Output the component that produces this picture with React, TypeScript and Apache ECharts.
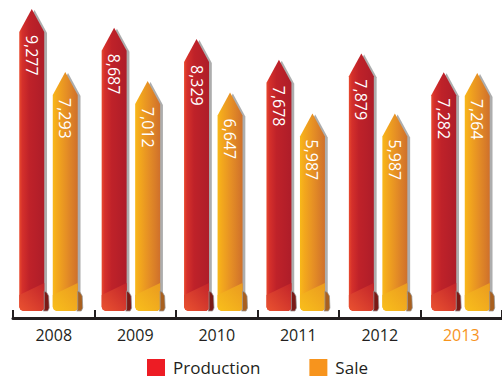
import React, { useEffect, useRef } from "react";
import * as echarts from "echarts";

const years = ["2008", "2009", "2010", "2011", "2012", "2013"];
const production = [9277, 8687, 8329, 7678, 7879, 7282];
const sale = [7293, 7012, 6647, 5987, 5987, 7264];
const seriesNames = ["Production", "Sale"];
const legendColors = ["#ed1c24", "#f7941d"];
const highlightYear = "2013";

const FONT = '"Open Sans", "Noto Sans", sans-serif';

type Palette = {
  body: [number, string][];
  lower: [string, string];
  curl: string;
};

const palettes: Palette[] = [
  {
    body: [
      [0, "#e84a2e"],
      [0.12, "#d5302b"],
      [0.4, "#bf2229"],
      [1, "#ae1d29"],
    ],
    lower: ["#ea5230", "#c2242a"],
    curl: "#7a1a16",
  },
  {
    body: [
      [0, "#f8b819"],
      [0.15, "#f4aa1c"],
      [0.55, "#e58e25"],
      [1, "#cf702b"],
    ],
    lower: ["#f9bf1b", "#ea9a20"],
    curl: "#a9601f",
  },
];

function makeRenderItem(side: number, pal: Palette) {
  return (params: any, api: any) => {
    const idx = api.value(0);
    const val = api.value(1);
    const band = api.size([1, 0])[0];
    const top = api.coord([idx, val]);
    const B = api.coord([idx, 0])[1];
    const w = band * 0.303;
    const cx = top[0] + side * band * 0.2033;
    const tip = top[1];
    const headH = w * 0.92;
    const L = cx - w / 2;
    const R = cx + w / 2;
    const lin = (x: number, y: number, x2: number, y2: number, stops: [number, string][]) => ({
      type: "linear",
      x,
      y,
      x2,
      y2,
      global: false,
      colorStops: stops.map(([offset, color]) => ({ offset, color })),
    });
    const bottom: number[][] = [
      [R, B + 5],
      [R - 3, B + 7],
      [L + 4, B + 7],
      [L + 1.2, B + 5.8],
      [L, B + 3],
    ];
    return {
      type: "group",
      children: [
        {
          type: "polygon",
          shape: {
            points: [
              [L + 2.8, B - 10],
              [L + 2.8, tip + headH + 1],
              [cx + 2.8, tip + 1],
              [R + 2.8, tip + headH + 1],
              [R + 2.8, B - 10],
            ],
          },
          style: { fill: "rgba(105,105,105,0.55)" },
        },
        {
          type: "polygon",
          shape: {
            points: [[L, tip + headH], [cx, tip], [R, tip + headH], ...bottom],
          },
          style: { fill: lin(0, 0, 1, 0, pal.body) },
        },
        {
          type: "polygon",
          shape: {
            points: [[L, B - 9], [R, B - 21], ...bottom],
          },
          style: {
            fill: lin(0, 1, 1, 0, [
              [0, pal.lower[0]],
              [1, pal.lower[1]],
            ]),
          },
        },
        {
          type: "polygon",
          shape: {
            points: [
              [R, B - 13],
              [R + 2.5, B - 11.5],
              [R + 4.5, B - 8],
              [R + 5, B + 4],
              [R + 3.5, B + 7],
              [R - 1, B + 7],
              [R, B + 5],
            ],
          },
          style: { fill: pal.curl, stroke: "rgba(150,150,150,0.9)", lineWidth: 0.8 },
        },
        {
          type: "text",
          x: cx,
          y: tip + headH + 3,
          rotation: -Math.PI / 2,
          style: {
            text: Number(val).toLocaleString("en-US"),
            fill: "#ffffff",
            font: `16px ${FONT}`,
            align: "left",
            verticalAlign: "middle",
          },
        },
      ],
    };
  };
}

export default function App() {
  const ref = useRef<HTMLDivElement>(null);
  useEffect(() => {
    if (!ref.current) return;
    const chart = echarts.init(ref.current, undefined, { renderer: "svg" });
    const valueSets = [production, sale];
    chart.setOption({
      animation: false,
      backgroundColor: "#ffffff",
      textStyle: { fontFamily: FONT },
      legend: {
        data: seriesNames.map((n, i) => ({ name: n, icon: "rect", itemStyle: { color: legendColors[i] } })),
        left: 147,
        top: 359,
        padding: 0,
        itemWidth: 18,
        itemHeight: 17,
        itemGap: 49,
        textStyle: { fontSize: 17, color: "#231f20", fontFamily: FONT, padding: [0, 0, 0, 3] },
      },
      grid: [
        { left: 13, width: 492, top: 5, height: 299 },
        { left: 7.3, width: 494.4, top: 5, height: 299 },
      ],
      xAxis: [
        {
          type: "category",
          gridIndex: 0,
          data: years.map((y) =>
            y === highlightYear ? { value: y, textStyle: { color: legendColors[1] } } : y
          ),
          offset: 14,
          axisLine: { show: true, onZero: false, lineStyle: { color: "#231f20", width: 3 } },
          axisTick: { show: true, inside: true, length: 8, lineStyle: { color: "#231f20", width: 2 } },
          axisLabel: { fontSize: 16, color: "#231f20", margin: 9, fontFamily: FONT },
        },
        {
          type: "category",
          gridIndex: 1,
          data: years,
          show: false,
        },
      ],
      yAxis: [
        { type: "value", gridIndex: 0, min: 0, max: 9400, show: false, splitLine: { show: false } },
        { type: "value", gridIndex: 1, min: 0, max: 9400, show: false, splitLine: { show: false } },
      ],
      series: seriesNames.map((name, s) => ({
        type: "custom",
        name,
        xAxisIndex: 1,
        yAxisIndex: 1,
        itemStyle: { color: legendColors[s] },
        encode: { x: 0, y: 1 },
        data: valueSets[s].map((v, i) => [i, v]),
        renderItem: makeRenderItem(s === 0 ? -1 : 1, palettes[s]),
      })),
    });
    return () => chart.dispose();
  }, []);
  return (
    <div
      ref={ref}
      style={{ position: "fixed", left: 0, top: 0, width: 502, height: 380 }}
    />
  );
}
